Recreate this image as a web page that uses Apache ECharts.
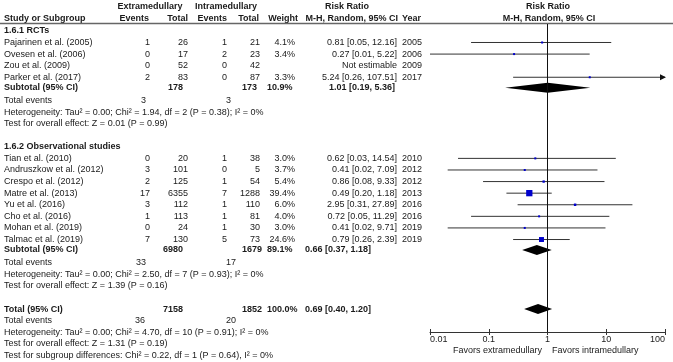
<!DOCTYPE html>
<html>
<head>
<meta charset="utf-8">
<script src="https://cdn.jsdelivr.net/npm/echarts@6.0.0/dist/echarts.min.js"></script>
<style>
  html, body { margin: 0; padding: 0; background: #fff; }
  #chart { width: 673px; height: 362px; }
</style>
</head>
<body>
<div id="chart"></div>
<script>
// --- data ---
const groupTitles = ['1.6.1 RCTs', '1.6.2 Observational studies'];

const rctStudies = ['Pajarinen et al. (2005)', 'Ovesen et al. (2006)', 'Zou et al. (2009)', 'Parker et al. (2017)'];
const rctExtEvents = [1, 0, 0, 2];
const rctExtTotal = [26, 17, 52, 83];
const rctIntEvents = [1, 2, 0, 0];
const rctIntTotal = [21, 23, 42, 87];
const rctWeight = [4.1, 3.4, null, 3.3];
const rctRR = [0.81, 0.27, null, 5.24];
const rctLow = [0.05, 0.01, null, 0.26];
const rctHigh = [12.16, 5.22, null, 107.51];
const rctYear = [2005, 2006, 2009, 2017];

const obsStudies = ['Tian et al. (2010)', 'Andruszkow et al. (2012)', 'Crespo et al. (2012)', 'Matre et al. (2013)',
  'Yu et al. (2016)', 'Cho et al. (2016)', 'Mohan et al. (2019)', 'Talmac et al. (2019)'];
const obsExtEvents = [0, 3, 2, 17, 3, 1, 0, 7];
const obsExtTotal = [20, 101, 125, 6355, 112, 113, 24, 130];
const obsIntEvents = [1, 0, 1, 7, 1, 1, 1, 5];
const obsIntTotal = [38, 5, 54, 1288, 110, 81, 30, 73];
const obsWeight = [3.0, 3.7, 5.4, 39.4, 6.0, 4.0, 3.0, 24.6];
const obsRR = [0.62, 0.41, 0.86, 0.49, 2.95, 0.72, 0.41, 0.79];
const obsLow = [0.03, 0.02, 0.08, 0.20, 0.31, 0.05, 0.02, 0.26];
const obsHigh = [14.54, 7.09, 9.33, 1.18, 27.89, 11.29, 9.71, 2.39];
const obsYear = [2010, 2012, 2012, 2013, 2016, 2016, 2019, 2019];

const subExtTotal = [178, 6980];
const subIntTotal = [173, 1679];
const subWeight = [10.9, 89.1];
const subRR = [1.01, 0.66];
const subLow = [0.19, 0.37];
const subHigh = [5.36, 1.18];
const subEventsExt = [3, 33];
const subEventsInt = [3, 17];
const subHeterogeneity = [
  'Heterogeneity: Tau² = 0.00; Chi² = 1.94, df = 2 (P = 0.38); I² = 0%',
  'Heterogeneity: Tau² = 0.00; Chi² = 2.50, df = 7 (P = 0.93); I² = 0%'
];
const subOverall = ['Test for overall effect: Z = 0.01 (P = 0.99)', 'Test for overall effect: Z = 1.39 (P = 0.16)'];

const totalExt = 7158;
const totalInt = 1852;
const totalWeight = 100.0;
const totalRR = 0.69;
const totalLow = 0.40;
const totalHigh = 1.20;
const totalEventsExt = 36;
const totalEventsInt = 20;
const totalNotes = [
  'Heterogeneity: Tau² = 0.00; Chi² = 4.70, df = 10 (P = 0.91); I² = 0%',
  'Test for overall effect: Z = 1.31 (P = 0.19)',
  'Test for subgroup differences: Chi² = 0.22, df = 1 (P = 0.64), I² = 0%'
];

const tickLabels = ['0.01', '0.1', '1', '10', '100'];
const favours = ['Favors extramedullary', 'Favors intramedullary'];

const groups = [
  { names: rctStudies, ee: rctExtEvents, et: rctExtTotal, ie: rctIntEvents, it: rctIntTotal, w: rctWeight, rr: rctRR, lo: rctLow, hi: rctHigh, yr: rctYear },
  { names: obsStudies, ee: obsExtEvents, et: obsExtTotal, ie: obsIntEvents, it: obsIntTotal, w: obsWeight, rr: obsRR, lo: obsLow, hi: obsHigh, yr: obsYear }
];

// --- layout ---
const Y0 = 30.9, ROW = 11.59;
const rowY = k => Y0 + k * ROW;
const TOP = 24, AXIS_Y = 332;
const FONT = '"Liberation Sans", Arial, sans-serif';
const INK = '#1a1a1a';
const col = { name: 4, ee: 150, et: 188, ie: 227, it: 260, w: 295, ci: 397, yr: 402 };

const fmtCI = (r, l, h) => r.toFixed(2) + ' [' + l.toFixed(2) + ', ' + h.toFixed(2) + ']';

const texts = [];
function put(s, x, y, align, bold) {
  texts.push({
    type: 'text', x: x, y: y, silent: true,
    style: {
      text: String(s), fill: INK, font: (bold ? 'bold ' : '') + '9px ' + FONT,
      align: align || 'left', verticalAlign: 'middle',
      textAlign: align || 'left', textVerticalAlign: 'middle'
    }
  });
}

// header
put('Extramedullary', 150, 6.7, 'center', true);
put('Intramedullary', 226, 6.7, 'center', true);
put('Risk Ratio', 347, 6.7, 'center', true);
put('Risk Ratio', 548, 6.7, 'center', true);
put('Study or Subgroup', col.name, 18.3, 'left', true);
put('Events', 149, 18.3, 'right', true);
put('Total', 188, 18.3, 'right', true);
put('Events', 227, 18.3, 'right', true);
put('Total', 259, 18.3, 'right', true);
put('Weight', 298, 18.3, 'right', true);
put('M-H, Random, 95% CI', 398, 18.3, 'right', true);
put('Year', 402, 18.3, 'left', true);
put('M-H, Random, 95% CI', 549, 18.3, 'center', true);

const studyData = [];
const diamondData = [];

let k = 0;
groups.forEach((g, gi) => {
  put(groupTitles[gi], col.name, rowY(k), 'left', true);
  const n = g.names.length;
  for (let i = 0; i < n; i++) {
    const y = rowY(k + 1 + i);
    put(g.names[i], col.name, y, 'left');
    put(g.ee[i], col.ee, y, 'right');
    put(g.et[i], col.et, y, 'right');
    put(g.ie[i], col.ie, y, 'right');
    put(g.it[i], col.it, y, 'right');
    if (g.rr[i] == null) {
      put('Not estimable', col.ci, y, 'right');
    } else {
      put(g.w[i].toFixed(1) + '%', col.w, y, 'right');
      put(fmtCI(g.rr[i], g.lo[i], g.hi[i]), col.ci, y, 'right');
      studyData.push([g.rr[i], g.lo[i], g.hi[i], k + 1 + i, g.w[i]]);
    }
    put(g.yr[i], col.yr, y, 'left');
  }
  const ks = k + n + 0.9;
  const ys = rowY(ks);
  put('Subtotal (95% CI)', col.name, ys, 'left', true);
  put(subExtTotal[gi], 183, ys, 'right', true);
  put(subIntTotal[gi], 242, ys, 'left', true);
  put(subWeight[gi].toFixed(1) + '%', 267, ys, 'left', true);
  if (gi === 0) put(fmtCI(subRR[gi], subLow[gi], subHigh[gi]), 395, ys, 'right', true);
  else put(fmtCI(subRR[gi], subLow[gi], subHigh[gi]), 305, ys, 'left', true);
  diamondData.push([subRR[gi], subLow[gi], subHigh[gi], ks]);

  put('Total events', col.name, rowY(k + n + 2), 'left');
  put(subEventsExt[gi], 146, rowY(k + n + 2), 'right');
  put(subEventsInt[gi], 226, rowY(k + n + 2), 'left');
  put(subHeterogeneity[gi], col.name, rowY(k + n + 3), 'left');
  put(subOverall[gi], col.name, rowY(k + n + 4), 'left');
  k += n + 6;
});

// overall
put('Total (95% CI)', col.name, rowY(k), 'left', true);
put(totalExt, 183, rowY(k), 'right', true);
put(totalInt, 242, rowY(k), 'left', true);
put(totalWeight.toFixed(1) + '%', 267, rowY(k), 'left', true);
put(fmtCI(totalRR, totalLow, totalHigh), 305, rowY(k), 'left', true);
diamondData.push([totalRR, totalLow, totalHigh, k]);
put('Total events', col.name, rowY(k + 1), 'left');
put(totalEventsExt, 145, rowY(k + 1), 'right');
put(totalEventsInt, 226, rowY(k + 1), 'left');
totalNotes.forEach((s, i) => put(s, col.name, rowY(k + 2 + i), 'left'));

// favours labels under the axis
put(favours[0], 542, 351, 'right');
put(favours[1], 552, 351, 'left');

// header rule
texts.push({
  type: 'line', silent: true,
  shape: { x1: 0, y1: 23.5, x2: 673, y2: 23.5 },
  style: { stroke: '#666', lineWidth: 1.5 }
});

const chart = echarts.init(document.getElementById('chart'));

const gridBox = { left: 430, right: 8, top: TOP, height: AXIS_Y - TOP };
const yBase = {
  type: 'value', inverse: true,
  min: (TOP - Y0) / ROW, max: (AXIS_Y - Y0) / ROW,
  show: false
};
const xBase = {
  type: 'log', logBase: 10, min: 0.01, max: 100,
  position: 'bottom',
  splitLine: { show: false }
};

chart.setOption({
  animation: false,
  grid: [gridBox, gridBox],
  xAxis: [
    Object.assign({}, xBase, {
      gridIndex: 0,
      axisLine: { onZero: false, lineStyle: { color: '#333', width: 1 } },
      axisTick: { show: true, length: 3, lineStyle: { color: '#333' } },
      axisLabel: {
        fontSize: 9, fontFamily: FONT, color: INK, margin: 3,
        alignMinLabel: 'left', alignMaxLabel: 'right',
        formatter: v => tickLabels[Math.round(Math.log10(v)) + 2]
      }
    }),
    // upward half of the tick marks, so they cross the axis line
    Object.assign({}, xBase, {
      gridIndex: 1,
      axisLine: { show: false, onZero: false },
      axisTick: { show: true, inside: true, length: 3, lineStyle: { color: '#333' } },
      axisLabel: { show: false }
    })
  ],
  yAxis: [Object.assign({ gridIndex: 0 }, yBase), Object.assign({ gridIndex: 1 }, yBase)],
  series: [
    {
      type: 'custom',
      clip: false,
      data: studyData,
      renderItem: (params, api) => {
        const rr = api.value(0), lo = api.value(1), hi = api.value(2), r = api.value(3), w = api.value(4);
        const y = api.coord([1, r])[1];
        const xl = api.coord([Math.max(lo, 0.01), r])[0];
        const xh = api.coord([Math.min(hi, 100), r])[0];
        const xc = api.coord([rr, r])[0];
        const s = Math.max(2, Math.sqrt(w));
        const children = [
          { type: 'line', shape: { x1: xl, y1: y, x2: xh, y2: y }, style: { stroke: '#333', lineWidth: 1 } },
          { type: 'rect', shape: { x: xc - s / 2, y: y - s / 2, width: s, height: s }, style: { fill: '#0000cc' } }
        ];
        if (hi > 100) {
          children.push({ type: 'polygon', shape: { points: [[xh + 1, y], [xh - 5, y - 3], [xh - 5, y + 3]] }, style: { fill: '#111' } });
        }
        return { type: 'group', children: children };
      }
    },
    {
      type: 'custom',
      clip: false,
      data: diamondData,
      renderItem: (params, api) => {
        const r = api.value(3);
        const c = api.coord([api.value(0), r]);
        const xl = api.coord([api.value(1), r])[0];
        const xh = api.coord([api.value(2), r])[0];
        return {
          type: 'polygon',
          shape: { points: [[xl, c[1]], [c[0], c[1] - 5], [xh, c[1]], [c[0], c[1] + 5]] },
          style: { fill: '#000' }
        };
      },
      markLine: {
        silent: true, symbol: 'none', label: { show: false },
        lineStyle: { color: '#111', width: 1, type: 'solid' },
        data: [{ xAxis: 1 }]
      }
    }
  ],
  graphic: texts
});
</script>
</body>
</html>
